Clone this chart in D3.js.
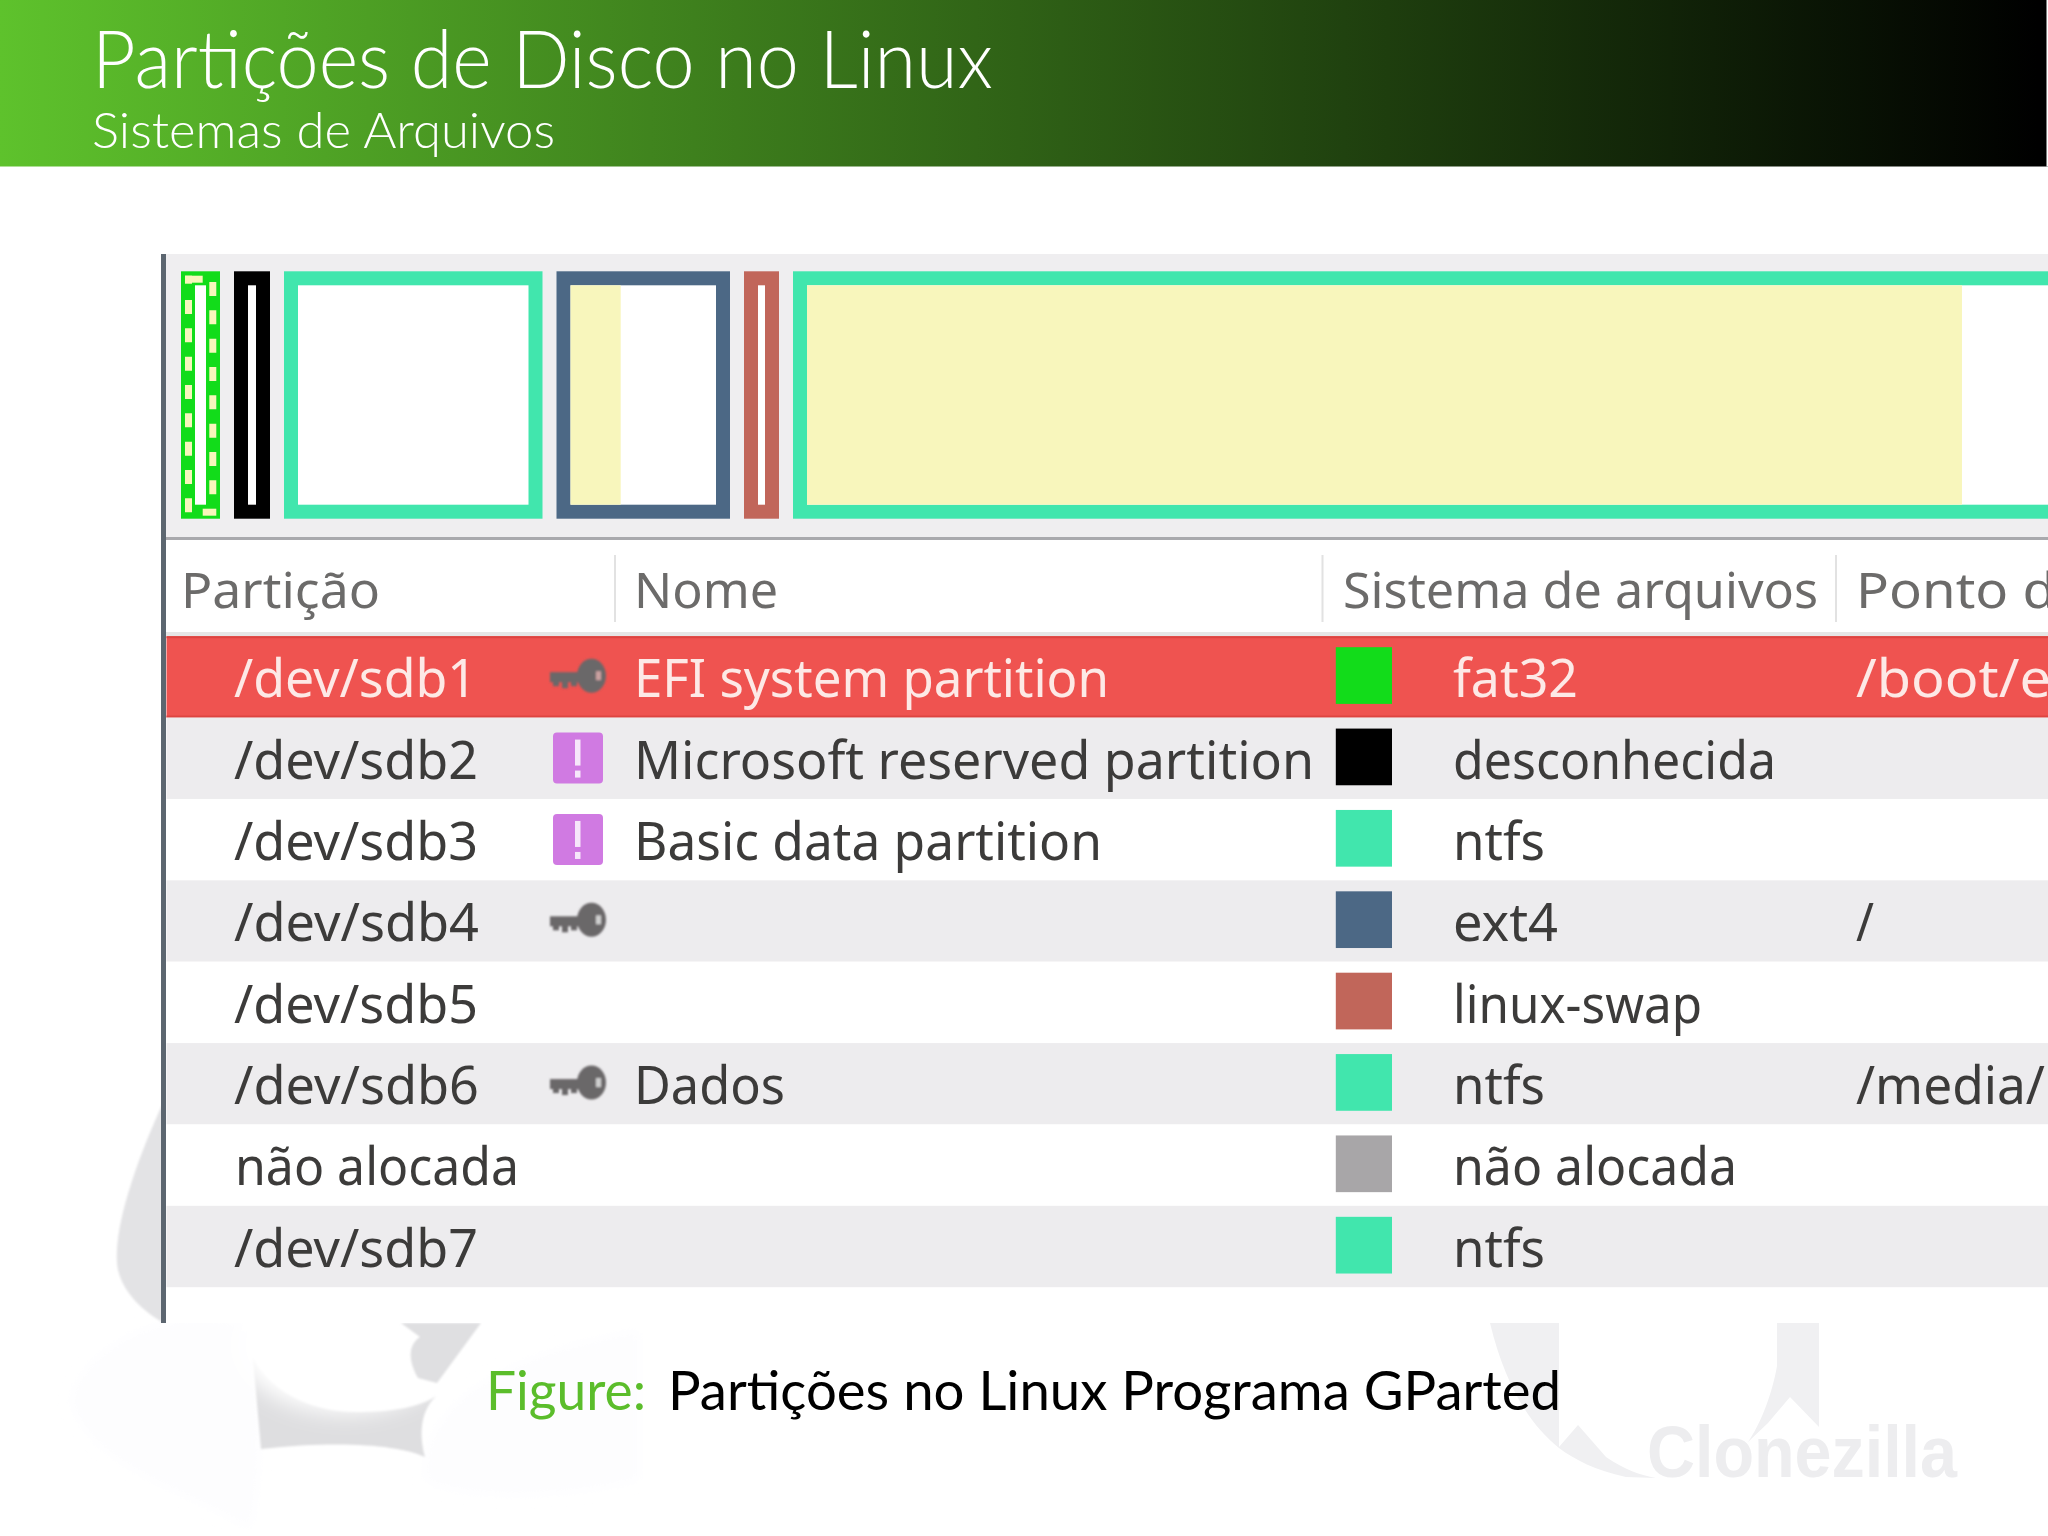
<!DOCTYPE html>
<html><head><meta charset="utf-8">
<style>html,body{margin:0;padding:0;background:#fff;overflow:hidden}svg{display:block}</style>
<script src="https://cdn.jsdelivr.net/npm/d3@7/dist/d3.min.js"></script>
</head><body><div id="c"></div>
<script>
// ---- data ----
const slideTitle = "Partições de Disco no Linux";
const slideSubtitle = "Sistemas de Arquivos";
const captionLabel = "Figure:";
const captionText = "Partições no Linux Programa GParted";
const columnHeaders = ["Partição", "Nome", "Sistema de arquivos", "Ponto d"];
const partitionNames = ["/dev/sdb1","/dev/sdb2","/dev/sdb3","/dev/sdb4","/dev/sdb5","/dev/sdb6","não alocada","/dev/sdb7"];
const labelNames = ["EFI system partition","Microsoft reserved partition","Basic data partition","","","Dados","",""];
const fileSystems = ["fat32","desconhecida","ntfs","ext4","linux-swap","ntfs","não alocada","ntfs"];
const mountPoints = ["/boot/e","","","/","","/media/","",""];
const rowIcons = ["key","warn","warn","key","","key","",""];
const fsColors = ["#12dc1a","#000000","#41e6ad","#4c6885","#c1665a","#41e6ad","#a8a6a8","#41e6ad"];
// partition map (first six rows shown; the sixth runs off the page)
const partSizes = [39, 36, 258.5, 173.5, 35, 1300];
const partUsed = [0, 0, 0, 0.345, 0, 0.908];
const partColors = ["#12dc1a","#000000","#41e6ad","#4c6885","#c1665a","#41e6ad"];

// ---- layout ----
const W = 2048, H = 1536, GAP = 14, BORDER = 14;
const svg = d3.select("#c").append("svg").attr("width", W).attr("height", H).attr("viewBox",`0 0 ${W} ${H}`);
const defs = svg.append("defs");
const hg = defs.append("linearGradient").attr("id","hdr");
hg.append("stop").attr("offset",0).attr("stop-color","#5ec22c");
hg.append("stop").attr("offset",0.995).attr("stop-color","#000000");
defs.append("filter").attr("id","soft").append("feGaussianBlur").attr("stdDeviation",0.8);
defs.append("filter").attr("id","soft2").append("feGaussianBlur").attr("stdDeviation",6);
defs.append("filter").attr("id","soft3").attr("x","-30%").attr("y","-30%").attr("width","160%").attr("height","160%")
  .append("feGaussianBlur").attr("stdDeviation",11);

const SANS = "Lato, 'Open Sans', sans-serif";
const UI = "'Noto Sans', 'Open Sans', sans-serif";

// ---- watermark behind the picture ----
const wm = svg.append("g");
wm.append("path").attr("fill","#fdfdfe").attr("filter","url(#soft2)")
  .attr("d","M70,1400 C90,1330 200,1300 250,1330 C260,1400 265,1470 250,1530 C190,1490 90,1470 70,1400Z");
wm.append("path").attr("fill","#fdfdfe").attr("filter","url(#soft2)")
  .attr("d","M425,1480 C420,1420 470,1360 640,1330 L640,1480 C560,1500 460,1500 425,1480Z");
wm.append("path").attr("fill","#e3e3e5").attr("filter","url(#soft)")
  .attr("d","M162,1105 C128,1180 112,1240 118,1270 C124,1295 145,1312 162,1322 Z");
wm.append("path").attr("fill","#dedee0").attr("filter","url(#soft)")
  .attr("d","M253,1358 C275,1398 320,1412 356,1412 C390,1412 418,1408 436,1396 C422,1410 418,1430 425,1457 C400,1445 340,1440 261,1449 Z");
wm.append("ellipse").attr("cx",345).attr("cy",1345).attr("rx",108).attr("ry",68).attr("fill","#ffffff").attr("filter","url(#soft3)");
wm.append("path").attr("fill","#dfdfe1").attr("filter","url(#soft)")
  .attr("d","M401,1323 L481,1323 L437,1383 L418,1378 C408,1360 408,1345 420,1337 Z");
wm.append("path").attr("fill","#f0f0f2")
  .attr("d","M1490,1323 L1559,1323 L1559,1447 L1578,1425 L1606,1457 C1625,1470 1640,1475 1656,1478 L1626,1477 C1595,1470 1575,1460 1559,1448 C1530,1425 1505,1385 1490,1323 Z");
wm.append("path").attr("fill","#f0f0f2")
  .attr("d","M1777,1323 L1819,1323 L1819,1427 L1790,1397 L1768,1423 L1748,1442 C1760,1425 1772,1395 1777,1366 Z");
wm.append("text").text("Clonezilla").attr("x",1647).attr("y",1477)
  .attr("font-family","'Liberation Sans', sans-serif").attr("font-weight",700).attr("font-size",72)
  .attr("textLength",310).attr("lengthAdjust","spacingAndGlyphs").attr("fill","#ededef");

// ---- header band ----
svg.append("rect").attr("width",W).attr("height",166.5).attr("fill","url(#hdr)");
svg.append("rect").attr("x",2046.5).attr("width",1.5).attr("height",166.5).attr("fill","#ffffff");
function tx(g, s, x, y, size, fill, family, w, weight){
  const t = g.append("text").text(s).attr("x",x).attr("y",y).attr("font-size",size)
    .attr("fill",fill).attr("font-family",family).attr("font-weight",weight||400).attr("xml:space","preserve");
  if (w) t.attr("textLength",w).attr("lengthAdjust","spacingAndGlyphs");
  return t;
}
tx(svg, slideTitle, 92, 88, 80, "#ffffff", SANS, 901, 300);
tx(svg, slideSubtitle, 92, 148, 50, "#ffffff", SANS, 463, 300);

// ---- picture: screenshot panel ----
const panel = svg.append("g");
panel.append("rect").attr("x",166).attr("y",254).attr("width",W-166).attr("height",1069).attr("fill","#ffffff");
panel.append("rect").attr("x",166).attr("y",254).attr("width",W-166).attr("height",283).attr("fill","#efeef0");
panel.append("rect").attr("x",166).attr("y",537).attr("width",W-166).attr("height",3).attr("fill","#a9a9ad");
panel.append("rect").attr("x",161).attr("y",254).attr("width",5).attr("height",1069).attr("fill","#5c6670");

// partition map
const mapLeft = 181;
const starts = partSizes.map((d,i)=> d3.sum(partSizes.slice(0,i)) + i*GAP);
const total = d3.sum(partSizes) + (partSizes.length-1)*GAP;
const xMap = d3.scaleLinear().domain([0,total]).range([mapLeft,mapLeft+total]);
const yMap = d3.scaleLinear().domain([0,1]).range([271.3,518.7]);
const parts = partSizes.map((s,i)=>({s,start:starts[i],used:partUsed[i],c:partColors[i]}));
const pg = panel.selectAll("g.part").data(parts).join("g").attr("class","part");
pg.append("rect").attr("x",d=>xMap(d.start)).attr("y",yMap(0))
  .attr("width",d=>xMap(d.start+d.s)-xMap(d.start)).attr("height",yMap(1)-yMap(0)).attr("fill",d=>d.c);
pg.append("rect").attr("x",d=>xMap(d.start)+BORDER).attr("y",yMap(0)+BORDER)
  .attr("width",d=>xMap(d.start+d.s)-xMap(d.start)-2*BORDER).attr("height",yMap(1)-yMap(0)-2*BORDER).attr("fill","#ffffff");
pg.append("rect").attr("x",d=>xMap(d.start)+BORDER).attr("y",yMap(0)+BORDER)
  .attr("width",d=>d.used*(xMap(d.start+d.s)-xMap(d.start)-2*BORDER)).attr("height",yMap(1)-yMap(0)-2*BORDER).attr("fill","#f8f6bc");

// dashed "selected" outline around the first partition
const dash = panel.append("g").attr("stroke","#f8f6bc").attr("fill","none").attr("stroke-width",7);
dash.append("line").attr("x1",188.5).attr("x2",188.5).attr("y1",300).attr("y2",516).attr("stroke-dasharray","14 14.33");
dash.append("line").attr("x1",212.8).attr("x2",212.8).attr("y1",282).attr("y2",495).attr("stroke-dasharray","14 14.33");
dash.append("path").attr("d","M185,279.2 H202.7");
dash.append("rect").attr("x",185).attr("y",275.7).attr("width",7).attr("height",8).attr("stroke","none").attr("fill","#f8f6bc");
dash.append("path").attr("d","M202.7,512.2 H216.3");

// table header
const colX = [181, 634, 1343, 1856];
const headW = [199, 144, 475, 200];
const headG = panel.append("g");
columnHeaders.forEach((h,i)=> tx(headG, h, colX[i], 608, 50, "#6c6b6a", UI, headW[i]));
[615, 1322.5, 1836].forEach(x=> headG.append("rect").attr("x",x-1).attr("y",555).attr("width",2).attr("height",67).attr("fill","#e2e2e2"));
headG.append("rect").attr("x",166).attr("y",632).attr("width",W-166).attr("height",4).attr("fill","#e6e6e6");

// table rows
const yRow = d3.scaleBand().domain(d3.range(partitionNames.length)).range([636.2,1287.2]);
const textW = {"/dev/sdb1":243,"/dev/sdb2":244,"/dev/sdb3":244,"/dev/sdb4":245,"/dev/sdb5":244,"/dev/sdb6":245,"/dev/sdb7":244,
  "não alocada":284,"EFI system partition":475,"Microsoft reserved partition":680,"Basic data partition":468,"Dados":151,
  "fat32":125,"desconhecida":323,"ntfs":92,"ext4":105,"linux-swap":249,"/boot/e":195,"/":18,"/media/":189};
const rows = panel.selectAll("g.row").data(partitionNames).join("g").attr("class","row")
  .attr("transform",(d,i)=>`translate(0,${yRow(i)})`);
rows.append("rect").attr("x",166.5).attr("width",W-166.5).attr("height",yRow.bandwidth())
  .attr("fill",(d,i)=> i===0 ? "#ef5350" : (i%2 ? "#edecee" : "#ffffff"));
rows.filter((d,i)=>i===0).append("rect").attr("x",166.5).attr("width",W-166.5).attr("height",2).attr("fill","#dd4440");
rows.filter((d,i)=>i===0).append("rect").attr("x",166.5).attr("y",yRow.bandwidth()-2).attr("width",W-166.5).attr("height",2).attr("fill","#dd4440");
const BASE = 61, INK = "#3c3b3a", INK_SEL = "#fde9e6";
const ink = i => i===0 ? INK_SEL : INK;
rows.each(function(d,i){
  const g = d3.select(this);
  const px = d.startsWith("/") ? 234 : 235;
  tx(g, d, px, BASE, 53, ink(i), UI, textW[d]);
  if (labelNames[i]) tx(g, labelNames[i], 634, BASE, 53, ink(i), UI, textW[labelNames[i]]);
  tx(g, fileSystems[i], 1453, BASE, 53, ink(i), UI, textW[fileSystems[i]]);
  if (mountPoints[i]) tx(g, mountPoints[i], 1856, BASE, 53, ink(i), UI, textW[mountPoints[i]]);
  g.append("rect").attr("x",1335.8).attr("y",11).attr("width",56.2).attr("height",56.7).attr("fill",fsColors[i]);
  if (rowIcons[i]==="key"){
    const k = g.append("g").attr("fill","#6a6769").attr("filter","url(#soft)");
    k.append("rect").attr("x",550).attr("y",36).attr("width",32).attr("height",10);
    k.append("rect").attr("x",553).attr("y",44).attr("width",6).attr("height",6);
    k.append("rect").attr("x",562).attr("y",44).attr("width",6).attr("height",8);
    k.append("rect").attr("x",571).attr("y",44).attr("width",6).attr("height",6);
    k.append("ellipse").attr("cx",591.5).attr("cy",39.5).attr("rx",14.5).attr("ry",17);
    k.append("rect").attr("x",596).attr("y",35).attr("width",5).attr("height",9).attr("fill",i===0?"#c9a0a0":"#cfcfcf");
  } else if (rowIcons[i]==="warn"){
    g.append("rect").attr("x",553).attr("y",15).attr("width",50).attr("height",51).attr("rx",4).attr("fill","#d07ae2");
    g.append("rect").attr("x",575).attr("y",22).attr("width",5.5).attr("height",26).attr("fill","#f6e6fa");
    g.append("rect").attr("x",575).attr("y",53).attr("width",5.5).attr("height",7).attr("fill","#f6e6fa");
  }
});

// ---- caption ----
tx(svg, captionLabel, 486, 1410, 55, "#5bbd2b", SANS, 160, 400);
tx(svg, captionText, 668, 1410, 55, "#000000", SANS, 893, 400);
</script></body></html>
